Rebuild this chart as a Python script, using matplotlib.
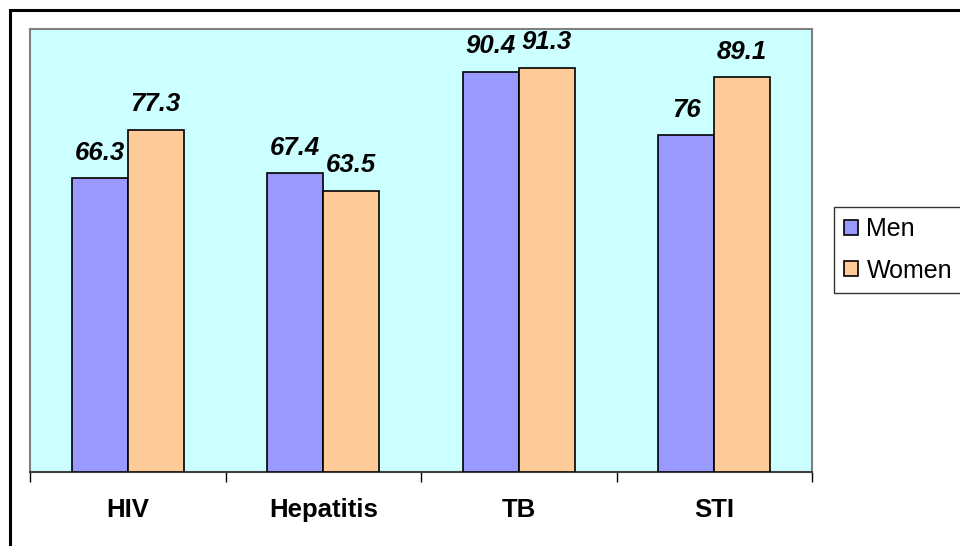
import matplotlib.pyplot as plt
from matplotlib.patches import Rectangle
import numpy as np

plt.rcParams['font.family'] = ['Liberation Sans', 'DejaVu Sans']

categories = ['HIV', 'Hepatitis', 'TB', 'STI']
men = [66.3, 67.4, 90.4, 76]
women = [77.3, 63.5, 91.3, 89.1]
men_labels = ['66.3', '67.4', '90.4', '76']
women_labels = ['77.3', '63.5', '91.3', '89.1']

W, H = 960, 546
fig = plt.figure(figsize=(9.6, 5.46), dpi=100)

# outer chart border (only top/left are inside the picture)
fig.patches.append(Rectangle((10 / W, -0.1), 1.2, 1 - 10 / H + 0.1, transform=fig.transFigure,
                             fill=False, edgecolor='black', linewidth=2.2, zorder=0))

ax = fig.add_axes([30 / W, 74 / H, 782 / W, 443 / H])
ax.set_facecolor('#CCFFFF')

x = np.arange(len(categories))
bw = 0.286
b1 = ax.bar(x - bw / 2, men, bw, color='#9999FF', edgecolor='black', linewidth=1.2, label='Men', zorder=3)
b2 = ax.bar(x + bw / 2, women, bw, color='#FFCC99', edgecolor='black', linewidth=1.2, label='Women', zorder=3)

for bars, labels in ((b1, men_labels), (b2, women_labels)):
    for rect, lab in zip(bars, labels):
        ax.annotate(lab, (rect.get_x() + rect.get_width() / 2, rect.get_height()),
                    xytext=(0, 13.5), textcoords='offset points', ha='center', va='baseline',
                    fontsize=18.5, fontweight='bold', fontstyle='italic', zorder=4)

ax.set_xlim(-0.5, len(categories) - 0.5)
ax.set_ylim(0, 100)
ax.set_yticks([])
ax.set_xticks(x)
ax.set_xticklabels(categories, fontsize=18.5, fontweight='bold')
ax.tick_params(axis='x', which='major', length=0, pad=19)
ax.set_xticks(np.arange(-0.5, len(categories)), minor=True)
ax.tick_params(axis='x', which='minor', length=7, width=1, color='black', direction='out')

for s in ('top', 'left', 'right'):
    ax.spines[s].set_color('#808080')
    ax.spines[s].set_linewidth(1.5)
ax.spines['bottom'].set_color('#404040')
ax.spines['bottom'].set_linewidth(1.5)

leg = fig.legend(handles=[b1, b2], loc='upper left', bbox_to_anchor=(834 / W, 1 - 207 / H),
                 fontsize=18, frameon=True, fancybox=False, borderpad=0.4,
                 handlelength=0.55, handleheight=0.55, handletextpad=0.35, labelspacing=0.7,
                 borderaxespad=0)
leg.get_frame().set_edgecolor('black')
leg.get_frame().set_linewidth(1)

fig.savefig('out.png', dpi=100)
